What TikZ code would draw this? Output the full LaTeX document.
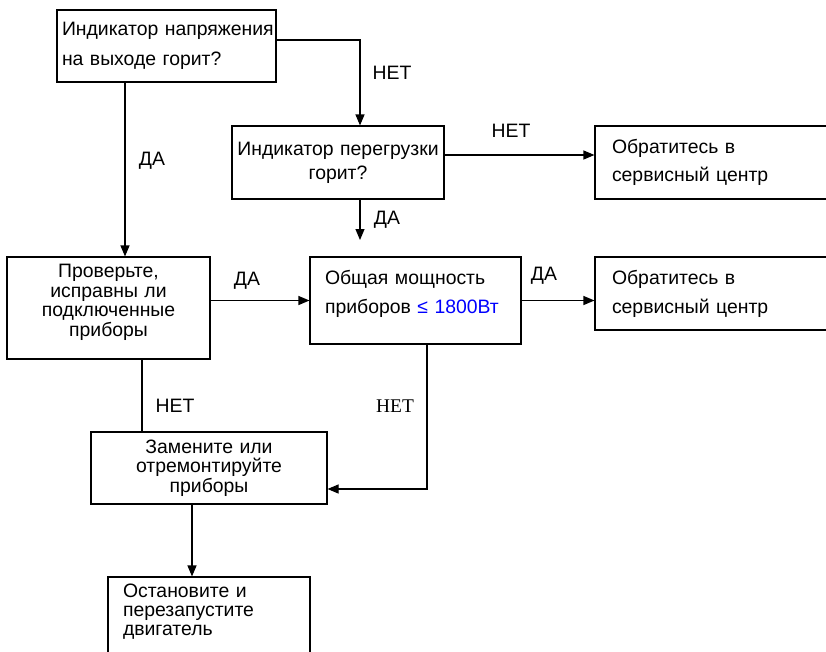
\documentclass[tikz,border=0pt]{standalone}
\usepackage{fontspec}
\setmainfont{Liberation Sans}
\newfontfamily\serifnet{Liberation Serif}
\usetikzlibrary{arrows.meta}

\begin{document}
\begin{tikzpicture}[x=1pt,y=-1pt,line width=1.1pt,>={Triangle[length=11pt,width=9pt]},
    box/.style={draw,rectangle,inner sep=0pt},
    lbl/.style={inner sep=0pt,font=\fontsize{19.4}{22}\selectfont}]
                    \useasboundingbox (0,0) rectangle (826,651);
                    % boxes
                    \node[box,minimum width=219pt,minimum height=72pt,text width=209pt,align=left,font=\fontsize{19.4}{30}\selectfont] (volt) at (166.5,46) {\mbox{Индикатор напряжения}\\на выходе горит?};
                    \node[box,minimum width=212pt,minimum height=73pt,text width=212pt,align=center,font=\fontsize{19.4}{24}\selectfont] (over) at (338,162.5) {Индикатор перегрузки\\горит?};
                    \node[box,minimum width=237pt,minimum height=73pt,text width=203pt,align=left,font=\fontsize{19.4}{28}\selectfont] (svcA) at (713.5,162.5) {Обратитесь в\\сервисный центр};
                    \node[box,minimum width=203pt,minimum height=102pt,text width=203pt,align=center,font=\fontsize{19.4}{19.5}\selectfont] (check) at (108.5,308) {Проверьте,\\исправны ли\\подключенные\\приборы\\[-4pt]~};
                    \node[box,minimum width=211pt,minimum height=87pt,text width=181pt,align=left,font=\fontsize{19.4}{29}\selectfont] (power) at (415.5,300.5) {Общая мощность\\приборов {\color{blue}≤ 1800Вт}\\[-11pt]~};
                    \node[box,minimum width=237pt,minimum height=73pt,text width=203pt,align=left,font=\fontsize{19.4}{29}\selectfont] (svcB) at (713.5,293.5) {Обратитесь в\\сервисный центр};
                    \node[box,minimum width=236pt,minimum height=72pt,text width=236pt,align=center,font=\fontsize{19.4}{19.5}\selectfont] (repair) at (209,468) {Замените или\\отремонтируйте\\приборы};
                    \node[box,minimum width=202pt,minimum height=110pt,text width=172pt,align=left,font=\fontsize{19.4}{19}\selectfont] (restart) at (209,632) {Остановите и\\перезапустите\\двигатель\\[25pt]~};
                    % connectors
                    \draw[->] ([yshift=6pt]volt.east) -| ([xshift=22pt]over.north);
                    \draw[->] ([xshift=16.5pt]check.north |- volt.south) -- ([xshift=16.5pt]check.north);
                    \coordinate (overend) at (360,240);
                    \draw[->] (over.south -| overend) -- (overend);
                    \draw[->] ([yshift=7.5pt]over.east) -- ([yshift=7.5pt]svcA.west);
                    \draw[->] (check.east |- power.west) -- (power.west);
                    \draw[->] (power.east) -- (power.east -| svcB.west);
                    \draw ([xshift=33.5pt]check.south) -- ([xshift=33.5pt]check.south |- repair.north);
                    \draw[->] ([xshift=11.5pt]power.south) |- ([yshift=-21pt]repair.east);
                    \draw[->] ([xshift=-17pt]repair.south) -- ([xshift=-17pt]restart.north);
                    % labels
                    \node[lbl] (netA) at (392,73) {НЕТ};
                    \node[lbl] (daA) at (152,161) {ДА};
                    \node[lbl] (daB) at (387,220) {ДА};
                    \node[lbl] (netB) at (511,131) {НЕТ};
                    \node[lbl] (daC) at (247,281) {ДА};
                    \node[lbl] (daD) at (544,276) {ДА};
                    \node[lbl] (netC) at (175,406) {НЕТ};
                    \node[lbl,font=\fontsize{19.4}{22}\serifnet] (netD) at (395,406) {НЕТ};
                \end{tikzpicture}
\end{document}
